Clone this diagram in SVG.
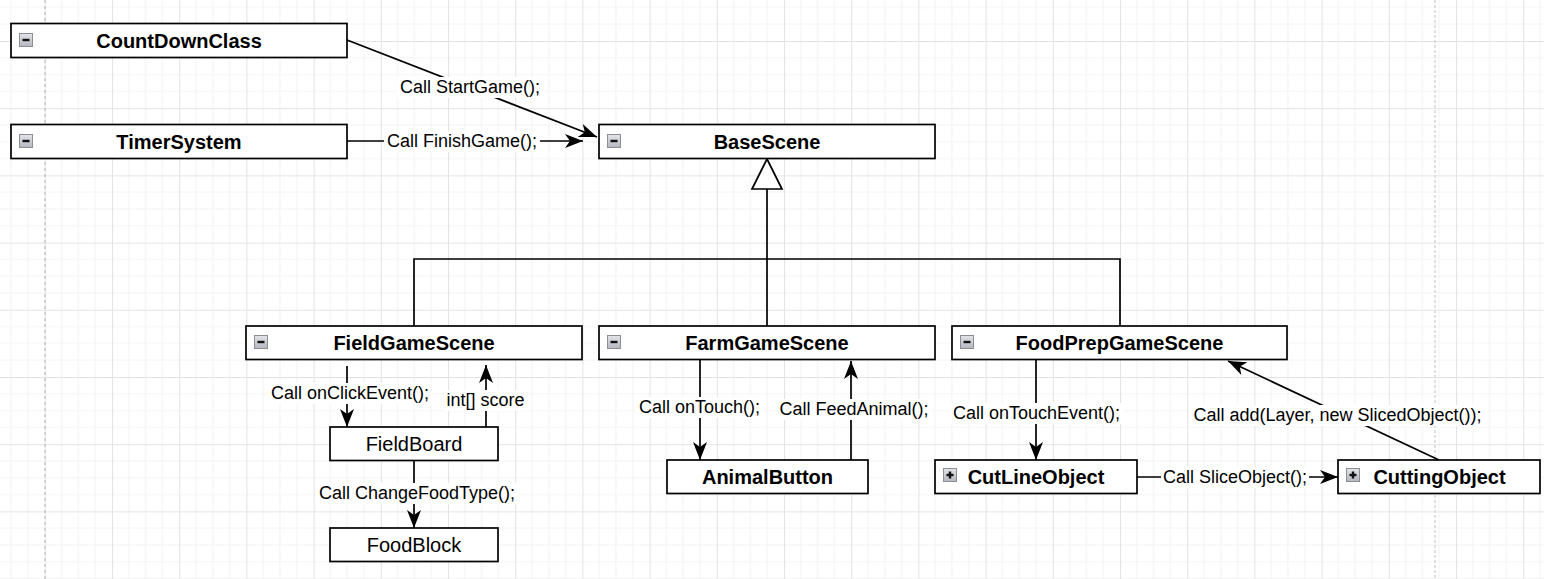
<svg xmlns="http://www.w3.org/2000/svg" width="1544" height="579" viewBox="0 0 1544 579">
<style>
.box{fill:#fff;stroke:#000;stroke-width:1.7}
.t{font-family:"Liberation Sans",Arial,sans-serif;font-size:20px;font-weight:bold;text-anchor:middle;dominant-baseline:central;fill:#000}
.tr{font-family:"Liberation Sans",Arial,sans-serif;font-size:20px;text-anchor:middle;dominant-baseline:central;fill:#000}
.lbl{font-family:"Liberation Sans",Arial,sans-serif;font-size:18px;text-anchor:middle;dominant-baseline:central;fill:#000}
.lbg{fill:#fff}
.edge{fill:none;stroke:#000;stroke-width:1.7}
.arr{marker-end:url(#arrow)}
.icon{fill:url(#ig);stroke:#8c8e96;stroke-width:1}
.bar{fill:#111}
</style>
<defs>
<pattern id="grid" x="44.8" y="41" width="67.2" height="67.2" patternUnits="userSpaceOnUse">
<rect width="67.2" height="67.2" fill="#fff"/>
<g stroke="#f3f3f3" stroke-width="1">
<line x1="16.8" y1="0" x2="16.8" y2="67.2"/><line x1="33.6" y1="0" x2="33.6" y2="67.2"/><line x1="50.4" y1="0" x2="50.4" y2="67.2"/>
<line x1="0" y1="16.8" x2="67.2" y2="16.8"/><line x1="0" y1="33.6" x2="67.2" y2="33.6"/><line x1="0" y1="50.4" x2="67.2" y2="50.4"/>
</g>
<g stroke="#e3e3e3" stroke-width="1">
<line x1="0.5" y1="0" x2="0.5" y2="67.2"/><line x1="0" y1="0.5" x2="67.2" y2="0.5"/>
</g>
</pattern>
<linearGradient id="ig" x1="0" y1="0" x2="0" y2="1">
<stop offset="0" stop-color="#e4e5ea"/><stop offset="1" stop-color="#b4b6be"/>
</linearGradient>
<marker id="arrow" viewBox="0 0 18 14" refX="18" refY="7" markerWidth="18" markerHeight="14" markerUnits="userSpaceOnUse" orient="auto">
<path d="M0,0 L18,7 L0,14 L5,7 Z" fill="#000"/>
</marker>
</defs>
<rect width="1544" height="579" fill="url(#grid)"/>
<line x1="45" y1="0" x2="45" y2="579" stroke="#b4b4b4" stroke-width="1" stroke-dasharray="3,3"/>
<line x1="1435" y1="0" x2="1435" y2="579" stroke="#d6d6d6" stroke-width="1.5" stroke-dasharray="3,2"/>

<g id="connectors">
<g id="e-countdown-base">
<path class="edge arr" d="M347,40 L597,137"/>
<rect class="lbg" x="397" y="77" width="146" height="21"/>
<text class="lbl" x="470" y="87">Call StartGame();</text>
</g>
<g id="e-timer-base">
<path class="edge arr" d="M347,141 L583,141"/>
<rect class="lbg" x="384" y="131" width="156" height="21"/>
<text class="lbl" x="462" y="141">Call FinishGame();</text>
</g>
<g id="e-inherit">
<path class="edge" d="M767,189 L767,326"/>
<path class="edge" d="M414,326 L414,259 L1120,259 L1120,326"/>
<path d="M767,159 L782,189 L752,189 Z" fill="#fff" stroke="#000" stroke-width="1.7"/>
</g>
<g id="e-field-board">
<path class="edge arr" d="M347,366 L347,427"/>
<rect class="lbg" x="268" y="383" width="164" height="21"/>
<text class="lbl" x="350" y="393">Call onClickEvent();</text>
</g>
<g id="e-board-field">
<path class="edge arr" d="M486,427 L486,365"/>
<rect class="lbg" x="444" y="390" width="83" height="21"/>
<text class="lbl" x="485.5" y="400">int[] score</text>
</g>
<g id="e-board-food">
<path class="edge arr" d="M414,460 L414,528"/>
<rect class="lbg" x="316" y="483" width="202" height="21"/>
<text class="lbl" x="417" y="493">Call ChangeFoodType();</text>
</g>
<g id="e-farm-animal">
<path class="edge arr" d="M700,359 L700,460"/>
<rect class="lbg" x="636" y="397" width="127" height="21"/>
<text class="lbl" x="699.5" y="407">Call onTouch();</text>
</g>
<g id="e-animal-farm">
<path class="edge arr" d="M851,460 L851,361"/>
<rect class="lbg" x="777" y="399" width="155" height="21"/>
<text class="lbl" x="854" y="409">Call FeedAnimal();</text>
</g>
<g id="e-foodprep-cutline">
<path class="edge arr" d="M1036,359 L1036,460"/>
<rect class="lbg" x="950" y="403" width="174" height="21"/>
<text class="lbl" x="1036.5" y="413">Call onTouchEvent();</text>
</g>
<g id="e-cutline-cutting">
<path class="edge arr" d="M1137,477 L1338,477"/>
<rect class="lbg" x="1161" y="467" width="148" height="21"/>
<text class="lbl" x="1235" y="477">Call SliceObject();</text>
</g>
<g id="e-cutting-foodprep">
<path class="edge arr" d="M1439,460 L1228,361"/>
<rect class="lbg" x="1189" y="405" width="298" height="21"/>
<text class="lbl" x="1337.5" y="415">Call add(Layer, new SlicedObject());</text>
</g>
</g>

<g id="CountDownClass">
<rect class="box" x="11" y="23.5" width="336" height="34"/>
<rect class="icon" x="19.5" y="33.5" width="13" height="13"/><rect class="bar" x="22.5" y="38.8" width="7" height="2.4"/>
<text class="t" x="179" y="40.5">CountDownClass</text>
</g>
<g id="TimerSystem">
<rect class="box" x="11" y="124.5" width="336" height="34"/>
<rect class="icon" x="19.5" y="134.5" width="13" height="13"/><rect class="bar" x="22.5" y="139.8" width="7" height="2.4"/>
<text class="t" x="179" y="141.5">TimerSystem</text>
</g>
<g id="BaseScene">
<rect class="box" x="599" y="124.5" width="336" height="34"/>
<rect class="icon" x="607.5" y="134.5" width="13" height="13"/><rect class="bar" x="610.5" y="139.8" width="7" height="2.4"/>
<text class="t" x="767" y="141.5">BaseScene</text>
</g>
<g id="FieldGameScene">
<rect class="box" x="246" y="326" width="336" height="33.5"/>
<rect class="icon" x="254.5" y="335.5" width="13" height="13"/><rect class="bar" x="257.5" y="340.8" width="7" height="2.4"/>
<text class="t" x="414" y="343">FieldGameScene</text>
</g>
<g id="FarmGameScene">
<rect class="box" x="599" y="326" width="336" height="33.5"/>
<rect class="icon" x="607.5" y="335.5" width="13" height="13"/><rect class="bar" x="610.5" y="340.8" width="7" height="2.4"/>
<text class="t" x="767" y="343">FarmGameScene</text>
</g>
<g id="FoodPrepGameScene">
<rect class="box" x="952" y="326" width="335" height="33.5"/>
<rect class="icon" x="960.5" y="335.5" width="13" height="13"/><rect class="bar" x="963.5" y="340.8" width="7" height="2.4"/>
<text class="t" x="1119.5" y="343">FoodPrepGameScene</text>
</g>
<g id="FieldBoard">
<rect class="box" x="330" y="427" width="168" height="33.5"/>
<text class="tr" x="414" y="444">FieldBoard</text>
</g>
<g id="FoodBlock">
<rect class="box" x="330" y="528" width="168" height="33.5"/>
<text class="tr" x="414" y="545">FoodBlock</text>
</g>
<g id="AnimalButton">
<rect class="box" x="667" y="460" width="201" height="33.5"/>
<text class="t" x="767.5" y="477">AnimalButton</text>
</g>
<g id="CutLineObject">
<rect class="box" x="935" y="460" width="202" height="33.5"/>
<rect class="icon" x="943.5" y="468.5" width="13" height="13"/><rect class="bar" x="946.5" y="473.8" width="7" height="2.4"/><rect class="bar" x="948.8" y="471.5" width="2.4" height="7"/>
<text class="t" x="1036" y="477">CutLineObject</text>
</g>
<g id="CuttingObject">
<rect class="box" x="1338" y="460" width="202" height="33.5"/>
<rect class="icon" x="1346.5" y="468.5" width="13" height="13"/><rect class="bar" x="1349.5" y="473.8" width="7" height="2.4"/><rect class="bar" x="1351.8" y="471.5" width="2.4" height="7"/>
<text class="t" x="1439.5" y="477">CuttingObject</text>
</g>
</svg>
